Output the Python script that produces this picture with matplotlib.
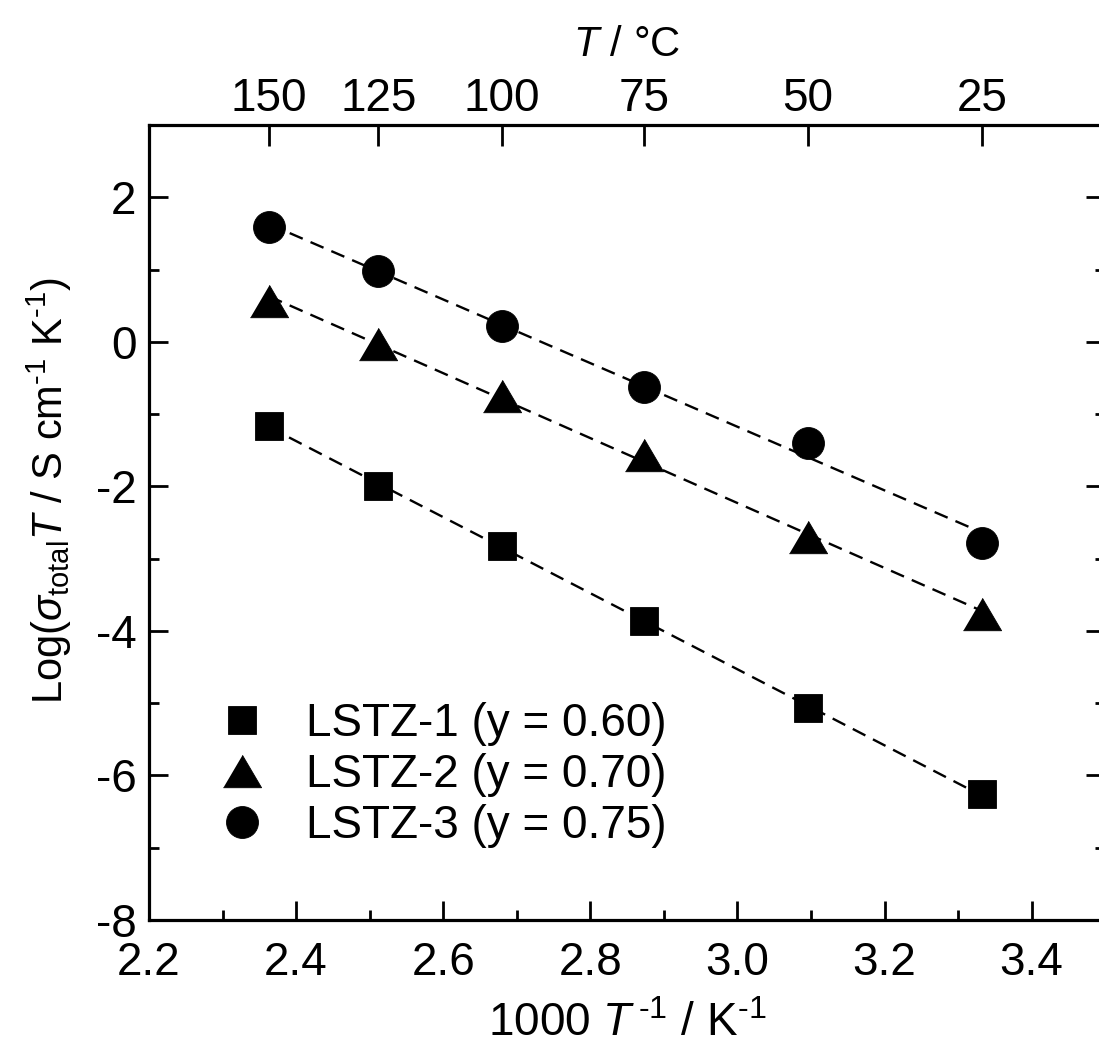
import numpy as np
import matplotlib
matplotlib.use("Agg")
import matplotlib.pyplot as plt
from matplotlib.ticker import MultipleLocator

plt.rcParams['font.family'] = ['Liberation Sans', 'DejaVu Sans']
plt.rcParams['mathtext.fontset'] = 'custom'
plt.rcParams['mathtext.rm'] = 'Liberation Sans'
plt.rcParams['mathtext.it'] = 'Liberation Sans:italic'
plt.rcParams['mathtext.sf'] = 'Liberation Sans'
plt.rcParams['axes.unicode_minus'] = False

# Data
inv_T = [2.363, 2.512, 2.680, 2.873, 3.096, 3.333]   # 1000/T (K^-1)
temp_labels = ['150', '125', '100', '75', '50', '25']
lstz1 = [-1.16, -1.99, -2.83, -3.86, -5.07, -6.26]
lstz2 = [0.56, -0.03, -0.75, -1.57, -2.70, -3.76]
lstz3 = [1.59, 0.98, 0.22, -0.63, -1.40, -2.78]
names = ['LSTZ-1 (y = 0.60)', 'LSTZ-2 (y = 0.70)', 'LSTZ-3 (y = 0.75)']

fig = plt.figure(figsize=(10.99, 10.53), dpi=100)
ax = fig.add_axes([0.1356, 0.1263, 0.870, 0.755])

x = np.array(inv_T)
tri = [(-1, -0.85), (1, -0.85), (0, 0.85)]
styles = [dict(marker='s', ms=20), dict(marker=tri, ms=27.5), dict(marker='o', ms=23)]
for ys, name, st in zip([lstz1, lstz2, lstz3], names, styles):
    ys = np.array(ys)
    p = np.polyfit(x, ys, 1)
    xx = np.array([x[0], x[-1]])
    ax.plot(xx, np.polyval(p, xx), color='black', lw=1.7, ls=(0, (6.0, 3.6)), zorder=2)
    ax.plot(x, ys, ls='none', color='black', mec='black', mew=0.6,
            label=name, zorder=3, **st)

ax.set_xlim(2.2, 3.5)
ax.set_ylim(-8, 3)
ax.xaxis.set_major_locator(MultipleLocator(0.2))
ax.xaxis.set_minor_locator(MultipleLocator(0.1))
ax.yaxis.set_major_locator(MultipleLocator(2))
ax.yaxis.set_minor_locator(MultipleLocator(1))
ax.xaxis.set_major_formatter(matplotlib.ticker.FormatStrFormatter('%.1f'))
ax.tick_params(which='both', direction='in', top=False, right=True, width=2, labelsize=33)
ax.tick_params(which='major', length=14)
ax.tick_params(axis='x', which='major', pad=15)
ax.tick_params(axis='y', which='major', pad=9)
ax.tick_params(which='minor', length=7)
for s in ax.spines.values():
    s.set_linewidth(2.3)

ax.set_xlabel(r'1000 $\it{T}^{\,\text{-}1}$ / K$^{\text{-}1}$', fontsize=33, labelpad=12)
ax.set_ylabel(r'Log($\it{\sigma}_{\rm total}$$\it{T}$ / S cm$^{\text{-}1}$ K$^{\text{-}1}$)',
              fontsize=30)
ax.yaxis.set_label_coords(-0.078, 0.54)

ax2 = ax.twiny()
ax2.set_xlim(ax.get_xlim())
ax2.set_xticks(inv_T)
ax2.set_xticklabels(temp_labels)
ax2.tick_params(axis='x', direction='in', length=15, width=2, labelsize=33, pad=3)
ax2.xaxis.set_minor_locator(matplotlib.ticker.NullLocator())
ax2.set_xlabel(r'$\it{T}$ / °C', fontsize=30, labelpad=15)

leg = ax.legend(loc='lower left', bbox_to_anchor=(0.03, 0.05), frameon=False,
                fontsize=33, handletextpad=0.7, labelspacing=0.15,
                handlelength=1.4, borderaxespad=0.3)

fig.savefig('out.png', dpi=100)
